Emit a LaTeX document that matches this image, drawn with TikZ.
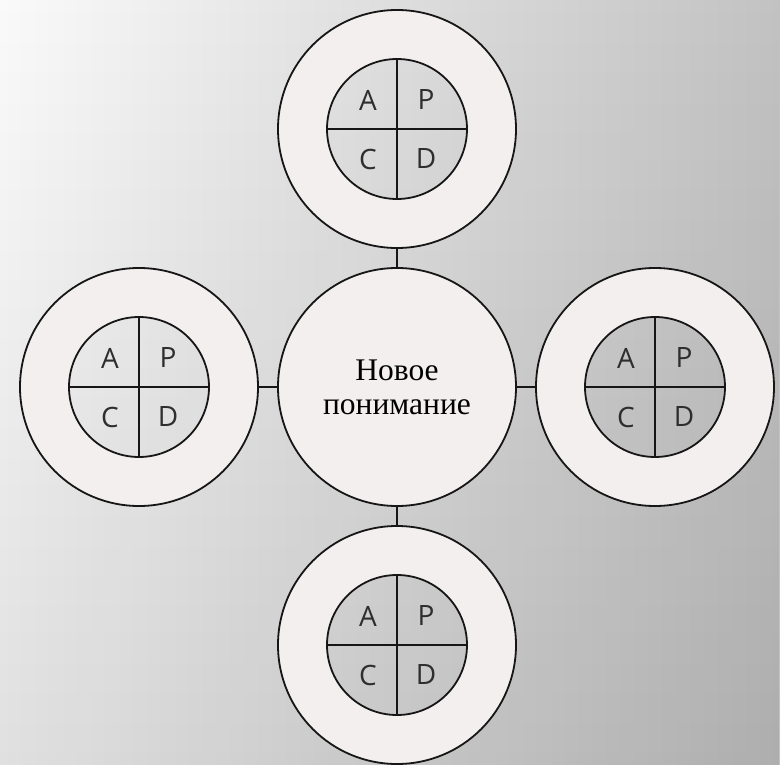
\documentclass[tikz,border=0pt]{standalone}
\usepackage{fontspec}
\setmainfont{Liberation Serif}
\newfontfamily\quadfont{Open Sans}
\usetikzlibrary{fadings,calc}
\definecolor{bgleft}{HTML}{FAFAFA}
\definecolor{bgright}{HTML}{C2C2C2}
\definecolor{ringfill}{HTML}{F4EFEF}
\definecolor{inkline}{HTML}{161616}
\definecolor{quadtext}{HTML}{2E2E2E}
\tikzset{
  outercirc/.style={circle, draw=inkline, line width=1.8pt, minimum size=238pt, inner sep=0pt},
  innercirc/.style={circle, draw=inkline, line width=1.8pt, minimum size=140pt, inner sep=0pt},
  centrecirc/.style={circle, draw=inkline, line width=1.8pt, minimum size=238pt, inner sep=0pt,
    align=center, font=\fontsize{31.5}{34}\selectfont, text=black},
  link/.style={draw=inkline, line width=1.5pt},
  cross/.style={draw=inkline, line width=1.5pt},
  quad/.style={font=\quadfont\fontsize{28}{28}\selectfont, text=quadtext, inner sep=0pt}
}
\begin{document}
\begin{tikzpicture}[x=1pt,y=-1pt]
% page and background gradient
\useasboundingbox (0,0) rectangle (780,765);
\shade[left color=bgleft, right color=bgright] (0,0) rectangle (780,765);
\fill[black, opacity=0.1, path fading=north] (0,0) rectangle (780,765);

% centres of the five circles
\coordinate (cC) at (397,387);
\coordinate (cT) at (397,129);
\coordinate (cB) at (397,645);
\coordinate (cL) at (139,387);
\coordinate (cR) at (655,387);

% rings: filled between outer and inner circle
\foreach \c in {cT,cB,cL,cR}
  \fill[ringfill, even odd rule] (\c) circle[radius=119pt] (\c) circle[radius=70pt];

% central circle
\node[centrecirc, fill=ringfill] (ctr) at (cC) {Новое\\понимание};

% outer circles
\node[outercirc] (top) at (cT) {};
\node[outercirc] (bot) at (cB) {};
\node[outercirc] (lft) at (cL) {};
\node[outercirc] (rgt) at (cR) {};

% inner PDCA circles
\foreach \c/\n in {cT/ti,cB/bi,cL/li,cR/ri}{
  \node[innercirc] (\n) at (\c) {};
  \draw[cross] (\n.north) -- (\n.south);
  \draw[cross] (\n.west) -- (\n.east);
  \node[quad] (\n A) at ($(\c)+(-29,-29)$) {A};
  \node[quad] (\n P) at ($(\c)+(29,-29)$) {P};
  \node[quad] (\n C) at ($(\c)+(-29,30)$) {C};
  \node[quad] (\n D) at ($(\c)+(29,30)$) {D};
}

% connectors from the centre to each cycle
\draw[link] (ctr.north) -- (top.south);
\draw[link] (ctr.south) -- (bot.north);
\draw[link] (ctr.west) -- (lft.east);
\draw[link] (ctr.east) -- (rgt.west);
\end{tikzpicture}
\end{document}
